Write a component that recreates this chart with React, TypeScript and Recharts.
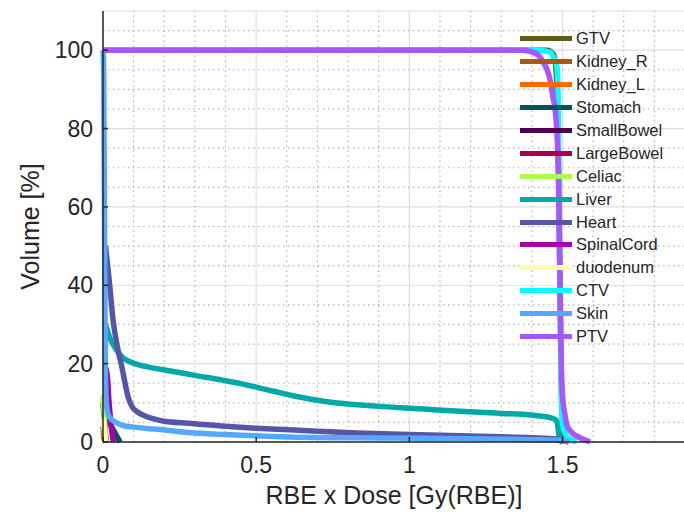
import React from 'react';
import { LineChart, Line, XAxis, YAxis, CartesianGrid, ReferenceLine, Legend, Label } from 'recharts';

type Pt = [number, number];

// dose [Gy(RBE)], volume [%]
const GTV: Pt[] = [[0, 100], [1.45, 100], [1.47, 99], [1.478, 96], [1.484, 85], [1.4875, 68], [1.4905, 48], [1.4935, 30], [1.496, 15], [1.499, 7], [1.503, 2.5], [1.51, 0.5], [1.515, 0]];
const KIDNEY_R: Pt[] = [[0, 3], [0.006, 1], [0.01, 0]];
const KIDNEY_L: Pt[] = [[0, 2], [0.005, 0.5], [0.009, 0]];
const STOMACH: Pt[] = [[0, 8], [0.01, 6.5], [0.02, 5], [0.03, 3.6], [0.04, 2.2], [0.05, 0.8], [0.056, 0]];
const SMALL_BOWEL: Pt[] = [[0, 4], [0.006, 1.5], [0.01, 0]];
const LARGE_BOWEL: Pt[] = [[0, 10], [0.004, 6], [0.008, 2], [0.011, 0]];
const CELIAC: Pt[] = [[0, 12], [0.005, 5], [0.009, 0]];
const LIVER: Pt[] = [[0.004, 30.5], [0.01, 29.5], [0.02, 27], [0.04, 24], [0.065, 21.5], [0.09, 20.4], [0.12, 19.6], [0.17, 18.8], [0.23, 18], [0.3, 17], [0.39, 15.8], [0.45, 14.9], [0.5, 14], [0.56, 12.9], [0.62, 11.8], [0.68, 10.9], [0.75, 10.1], [0.85, 9.4], [0.94, 8.9], [1.05, 8.4], [1.15, 7.9], [1.23, 7.6], [1.3, 7.3], [1.395, 6.9], [1.44, 6.5], [1.465, 6.1], [1.48, 5.5], [1.485, 4], [1.488, 2], [1.49, 0.8], [1.495, 0.2], [1.5, 0]];
const HEART: Pt[] = [[0.008, 50], [0.02, 41.5], [0.033, 31], [0.049, 23.5], [0.062, 19], [0.072, 15], [0.082, 11.5], [0.095, 9], [0.11, 7.8], [0.13, 6.9], [0.16, 6], [0.2, 5.3], [0.28, 4.8], [0.4, 4], [0.5, 3.5], [0.61, 3.1], [0.83, 2.3], [1.0, 1.9], [1.2, 1.5], [1.4, 1.1], [1.48, 0.8], [1.5, 0.3], [1.52, 0]];
const SPINAL_CORD: Pt[] = [[0.008, 19], [0.012, 18], [0.016, 15], [0.018, 12], [0.022, 8], [0.027, 4], [0.031, 1.5], [0.034, 0]];
const DUODENUM: Pt[] = [[0, 6], [0.005, 2], [0.009, 0]];
const CTV: Pt[] = [[0, 100], [1.4, 100], [1.43, 99.9], [1.459, 99.5], [1.472, 98], [1.482, 95.6], [1.4855, 89], [1.489, 58], [1.492, 40], [1.4945, 20], [1.497, 10], [1.5, 5], [1.505, 3], [1.515, 1.3], [1.53, 0.5], [1.545, 0]];
const SKIN: Pt[] = [[0, 100], [0.002, 96], [0.005, 55], [0.008, 16], [0.012, 9], [0.02, 6.5], [0.04, 5.1], [0.065, 4.2], [0.1, 3.8], [0.17, 3.3], [0.28, 2.4], [0.4, 1.9], [0.61, 1.3], [0.94, 1], [1.2, 0.8], [1.4, 0.6], [1.5, 0.4], [1.52, 0]];
const PTV: Pt[] = [[0, 100], [1.37, 100], [1.394, 99.7], [1.42, 98.8], [1.4365, 97], [1.45, 95], [1.459, 92.6], [1.469, 88], [1.4757, 85], [1.481, 80], [1.4855, 72], [1.489, 58], [1.492, 40], [1.4953, 23], [1.4986, 14], [1.503, 9.5], [1.508, 7], [1.515, 4.2], [1.525, 2.9], [1.54, 1.8], [1.557, 1.1], [1.575, 0.5], [1.59, 0]];

const NAMES = ['GTV', 'Kidney_R', 'Kidney_L', 'Stomach', 'SmallBowel', 'LargeBowel', 'Celiac', 'Liver', 'Heart', 'SpinalCord', 'duodenum', 'CTV', 'Skin', 'PTV'];
const CURVES = [GTV, KIDNEY_R, KIDNEY_L, STOMACH, SMALL_BOWEL, LARGE_BOWEL, CELIAC, LIVER, HEART, SPINAL_CORD, DUODENUM, CTV, SKIN, PTV];
const COLORS = ['#5c5c12', '#a85a14', '#ff6a00', '#005656', '#4f0050', '#a6004f', '#a8ff50', '#00a8a8', '#5656a8', '#a800a8', '#ffffaa', '#00ffff', '#56a8ff', '#a856ff'];

const X_TICKS = [0, 0.5, 1, 1.5];
const Y_TICKS = [0, 20, 40, 60, 80, 100];
const X_MINOR = [0.1, 0.2, 0.3, 0.4, 0.6, 0.7, 0.8, 0.9, 1.1, 1.2, 1.3, 1.4, 1.6, 1.7, 1.8, 1.9];
const Y_MINOR = [5, 10, 15, 25, 30, 35, 45, 50, 55, 65, 70, 75, 85, 90, 95, 105];

const FONT = '"Liberation Sans", Arial, Helvetica, sans-serif';
const INK = '#262626';

const series = NAMES.map((name, i) => ({
  name,
  color: COLORS[i],
  data: CURVES[i].map(([dose, volume]) => ({ dose, volume })),
}));

const DvhLegend = () => (
  <div style={{ fontFamily: FONT, fontSize: 16.5, color: INK }}>
    {series.map((s) => (
      <div key={s.name} style={{ display: 'flex', alignItems: 'center', height: 22.9 }}>
        <div style={{ width: 52, height: 5, background: s.color, marginRight: 4 }} />
        <span>{s.name}</span>
      </div>
    ))}
  </div>
);

export default function App() {
  return (
    <div style={{ position: 'absolute', left: 0, top: 0, width: 684, height: 514, overflow: 'hidden', background: '#fff' }}>
      <LineChart width={700} height={514} margin={{ top: 11, right: 15, bottom: 0, left: 0 }}>
        <CartesianGrid stroke="#dedede" strokeWidth={1.2} />
        {X_MINOR.map((v) => (
          <ReferenceLine key={'x' + v} x={v} stroke="#b4b4b4" strokeWidth={1.2} strokeDasharray="1.5 3.5" />
        ))}
        {Y_MINOR.map((v) => (
          <ReferenceLine key={'y' + v} y={v} stroke="#b4b4b4" strokeWidth={1.2} strokeDasharray="1.5 3.5" />
        ))}
        <XAxis
          dataKey="dose"
          type="number"
          domain={[0, 1.9]}
          ticks={X_TICKS}
          height={72}
          tickSize={-5}
          tickMargin={20}
          stroke={INK}
          strokeWidth={1.5}
          tick={{ fontSize: 23, fill: INK, fontFamily: FONT }}
        >
          <Label value="RBE x Dose [Gy(RBE)]" position="insideBottom" offset={10} style={{ fontSize: 25, fill: INK, fontFamily: FONT }} />
        </XAxis>
        <XAxis
          xAxisId="top"
          orientation="top"
          type="number"
          domain={[0, 1.9]}
          ticks={X_TICKS}
          height={0}
          tickSize={-5}
          stroke={INK}
          strokeWidth={1.5}
          tickFormatter={() => ''}
        />
        <YAxis
          type="number"
          domain={[0, 110]}
          ticks={Y_TICKS}
          width={103}
          tickSize={-5}
          tickMargin={15}
          stroke={INK}
          strokeWidth={1.5}
          tick={{ fontSize: 23, fill: INK, fontFamily: FONT }}
        >
          <Label value="Volume [%]" angle={-90} position="insideLeft" offset={30} style={{ textAnchor: 'middle', fontSize: 25, fill: INK, fontFamily: FONT }} />
        </YAxis>
        <YAxis
          yAxisId="right"
          orientation="right"
          type="number"
          domain={[0, 110]}
          ticks={Y_TICKS}
          width={0}
          tickSize={-5}
          stroke={INK}
          strokeWidth={1.5}
          tickFormatter={() => ''}
        />
        {series.map((s) => (
          <Line
            key={s.name}
            name={s.name}
            data={s.data}
            dataKey="volume"
            type="monotone"
            stroke={s.color}
            strokeWidth={5.5}
            strokeLinejoin="round"
            dot={false}
            activeDot={false}
            isAnimationActive={false}
          />
        ))}
        <Legend
          layout="vertical"
          align="center"
          verticalAlign="middle"
          wrapperStyle={{ position: 'absolute', top: 27.5, left: 520, width: 160 }}
          content={() => <DvhLegend />}
        />
      </LineChart>
    </div>
  );
}
